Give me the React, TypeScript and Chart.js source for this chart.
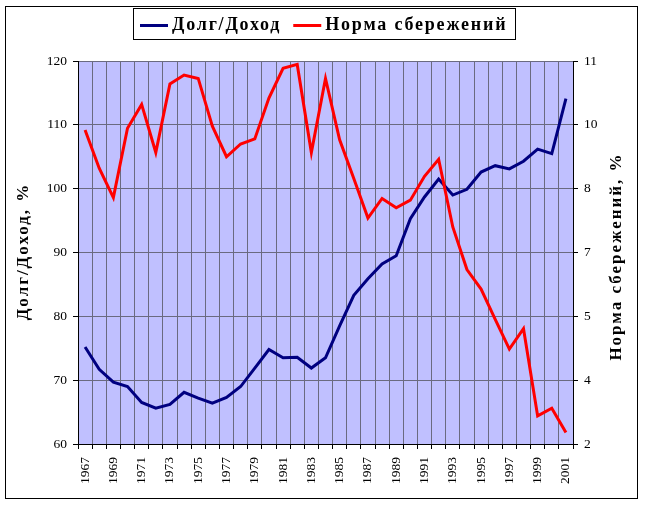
import React, { useEffect, useRef } from 'react';
import { Chart, registerables } from 'chart.js';

Chart.register(...registerables);

const years = [
  '1967', '1968', '1969', '1970', '1971', '1972', '1973', '1974', '1975', '1976',
  '1977', '1978', '1979', '1980', '1981', '1982', '1983', '1984', '1985', '1986',
  '1987', '1988', '1989', '1990', '1991', '1992', '1993', '1994', '1995', '1996',
  '1997', '1998', '1999', '2000', '2001',
];

// Долг/Доход, % (left axis)
const debtIncome = [
  75.2, 71.7, 69.7, 69.0, 66.5, 65.6, 66.2, 68.1, 67.2, 66.4,
  67.3, 69.0, 71.9, 74.8, 73.5, 73.6, 71.9, 73.5, 78.5, 83.3,
  85.9, 88.2, 89.5, 95.3, 98.7, 101.5, 99.0, 99.9, 102.6, 103.6,
  103.1, 104.3, 106.2, 105.5, 114.1,
];

// Норма сбережений, % (right axis)
const savingsRate = [
  9.38, 8.48, 7.79, 9.42, 9.98, 8.85, 10.46, 10.67, 10.59, 9.47,
  8.75, 9.05, 9.17, 10.13, 10.83, 10.92, 8.85, 10.59, 9.15, 8.24,
  7.31, 7.77, 7.55, 7.73, 8.29, 8.69, 7.10, 6.10, 5.64, 4.93,
  4.23, 4.71, 2.66, 2.84, 2.27,
];

const leftRange = { min: 60, max: 120, step: 10 };
const rightRange = { min: 2, max: 11, step: 1.5 };

const BLUE = '#000080';
const RED = '#FF0000';

const serif = "'Liberation Serif', 'Times New Roman', serif";
const labelFont = { family: serif, size: 13.5 };
const titleFont = `bold 17px ${serif}`;
const legendFont = `bold 18px ${serif}`;

const drawTitle = (ctx: CanvasRenderingContext2D, text: string, x: number, y: number) => {
  ctx.save();
  ctx.fillStyle = '#000';
  ctx.font = titleFont;
  (ctx as any).letterSpacing = '2px';
  ctx.textAlign = 'center';
  ctx.textBaseline = 'middle';
  ctx.translate(x, y);
  ctx.rotate(-Math.PI / 2);
  ctx.fillText(text, 0, 0);
  ctx.restore();
};

const drawLegend = (chart: Chart) => {
  const ctx = chart.ctx;
  ctx.save();
  ctx.fillStyle = '#fff';
  ctx.fillRect(133.5, 8.5, 382, 31);
  ctx.strokeStyle = '#000';
  ctx.lineWidth = 1;
  ctx.strokeRect(133.5, 8.5, 382, 31);
  ctx.font = legendFont;
  (ctx as any).letterSpacing = '1.8px';
  ctx.textAlign = 'left';
  ctx.textBaseline = 'middle';
  let x = 140;
  chart.data.datasets.forEach((ds, i) => {
    ctx.strokeStyle = ds.borderColor as string;
    ctx.lineWidth = 3;
    ctx.beginPath();
    ctx.moveTo(x, 25.5);
    ctx.lineTo(x + 28, 25.5);
    ctx.stroke();
    ctx.fillStyle = '#000';
    ctx.fillText(ds.label as string, x + 32, 25);
    x += 32 + ctx.measureText(ds.label as string).width + (i === 0 ? 12 : 0);
  });
  ctx.restore();
};

const framePlugin = {
  id: 'frame',
  afterDraw(chart: Chart) {
    const { ctx, chartArea } = chart;
    ctx.save();
    ctx.strokeStyle = '#000';
    ctx.lineWidth = 1;
    ctx.strokeRect(5.5, 6.5, 632, 492);
    ctx.restore();
    const midY = (chartArea.top + chartArea.bottom) / 2;
    drawTitle(ctx, 'Долг/Доход, %', 24, midY - 1);
    drawTitle(ctx, 'Норма сбережений, %', 617, midY + 4);
    drawLegend(chart);
  },
};

const bgPlugin = {
  id: 'plotBg',
  beforeDraw(chart: Chart) {
    const { ctx, chartArea } = chart;
    ctx.save();
    ctx.fillStyle = '#C0C0FF';
    ctx.fillRect(chartArea.left, chartArea.top, chartArea.right - chartArea.left, chartArea.bottom - chartArea.top);
    ctx.restore();
  },
};

export default function App() {
  const canvasRef = useRef<HTMLCanvasElement>(null);

  useEffect(() => {
    if (!canvasRef.current) return;
    const chart = new Chart(canvasRef.current, {
      type: 'line',
      data: {
        labels: years,
        datasets: [
          {
            label: 'Долг/Доход',
            data: debtIncome,
            yAxisID: 'y',
            borderColor: BLUE,
            borderWidth: 3,
            pointRadius: 0,
            tension: 0,
            order: 2,
          },
          {
            label: 'Норма сбережений',
            data: savingsRate,
            yAxisID: 'y2',
            borderColor: RED,
            borderWidth: 3,
            pointRadius: 0,
            tension: 0,
            order: 1,
          },
        ],
      },
      options: {
        responsive: false,
        animation: false,
        layout: { padding: { top: 61, left: 0, right: 0, bottom: 0 } },
        plugins: { legend: { display: false }, tooltip: { enabled: false } },
        scales: {
          x: {
            type: 'category',
            offset: true,
            afterFit: (s: any) => { s.height = 61; },
            grid: { offset: true, color: '#6A6A80', tickColor: '#000', tickLength: 5 },
            border: { color: '#000' },
            ticks: {
              autoSkip: false,
              maxRotation: 90,
              minRotation: 90,
              padding: 8,
              color: '#000',
              font: labelFont,
              callback: (_v: any, i: number) => (i % 2 === 0 ? years[i] : ''),
            },
          },
          y: {
            position: 'left',
            min: leftRange.min,
            max: leftRange.max,
            afterFit: (s: any) => { s.width = 78; },
            grid: { color: '#6A6A80', tickColor: '#000', tickLength: 5 },
            border: { color: '#000' },
            ticks: { stepSize: leftRange.step, padding: 6, color: '#000', font: labelFont },
          },
          y2: {
            position: 'right',
            min: rightRange.min,
            max: rightRange.max,
            afterFit: (s: any) => { s.width = 74; },
            grid: { drawOnChartArea: false, tickColor: '#000', tickLength: 5 },
            border: { color: '#000' },
            ticks: {
              stepSize: rightRange.step,
              padding: 6,
              color: '#000',
              font: labelFont,
              callback: (v: any) => String(Math.round(Number(v))),
            },
          },
        },
      },
      plugins: [bgPlugin, framePlugin],
    });
    return () => chart.destroy();
  }, []);

  return (
    <div style={{ position: 'fixed', left: 0, top: 0, width: 647, height: 505, background: '#fff' }}>
      <canvas ref={canvasRef} width={647} height={505} />
    </div>
  );
}
